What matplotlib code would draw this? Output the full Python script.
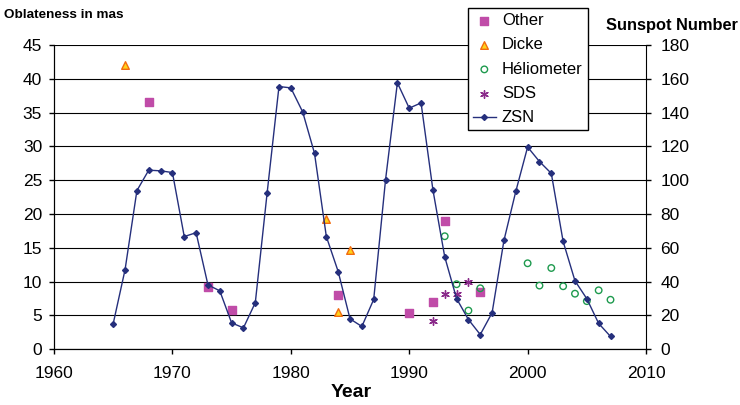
import numpy as np
import matplotlib.pyplot as plt

plt.rcParams['font.family'] = ['Liberation Sans', 'DejaVu Sans']

# yearly sunspot number (right axis)
zsn_years = np.arange(1965, 2008)
zsn = [15.1, 47.0, 93.8, 105.9, 105.5, 104.5, 66.6, 68.9, 38.0, 34.5,
       15.5, 12.6, 27.5, 92.5, 155.4, 154.6, 140.4, 115.9, 66.6, 45.9,
       17.9, 13.4, 29.4, 100.2, 157.6, 142.6, 145.7, 94.3, 54.6, 29.9,
       17.5, 8.6, 21.5, 64.3, 93.3, 119.6, 111.0, 104.0, 63.7, 40.4,
       29.8, 15.2, 7.5]

# oblateness measurements (left axis, mas)
other_years = [1968, 1973, 1975, 1984, 1990, 1992, 1993, 1996]
other_vals = [36.5, 9.2, 5.8, 8.0, 5.4, 6.9, 18.9, 8.5]

dicke_years = [1966, 1983, 1984, 1985]
dicke_vals = [42.0, 19.2, 5.5, 14.6]

helio_years = [1993, 1994, 1995, 1996, 2000, 2001, 2002, 2003, 2004, 2005, 2006, 2007]
helio_vals = [16.7, 9.6, 5.7, 9.0, 12.7, 9.4, 12.0, 9.3, 8.2, 7.1, 8.7, 7.3]

sds_years = [1992, 1993, 1994, 1995]
sds_vals = [4.2, 8.2, 8.2, 10.0]

fig = plt.figure(figsize=(7.4, 4.05), dpi=100)
ax = fig.add_axes([0.073, 0.138, 0.8, 0.751])
ax2 = ax.twinx()

ax.yaxis.grid(True, color='black', lw=0.8)
ax.set_axisbelow(True)

h1 = ax.scatter(other_years, other_vals, marker='s', s=30, color='#c04ca8', label='Other', zorder=3)
h2 = ax.scatter(dicke_years, dicke_vals, marker='^', s=30, facecolor='#ffd21a',
                edgecolor='#f26b10', lw=1, label='Dicke', zorder=3)
h3 = ax.scatter(helio_years, helio_vals, marker='o', s=22, facecolor='none',
                edgecolor='#1e9a4e', lw=1, label='Héliometer', zorder=3)
h4 = ax.scatter(sds_years, sds_vals, marker=(6, 2, 0), s=30, color='#8a2a8a',
                lw=1, label='SDS', zorder=3)
h5, = ax2.plot(zsn_years, zsn, color='#252f7c', lw=1, marker='D', ms=3, label='ZSN')

ax.set_xlim(1960, 2010)
ax.set_ylim(0, 45)
ax2.set_ylim(0, 180)
ax.set_xticks(range(1960, 2011, 10))
ax.set_yticks(range(0, 46, 5))
ax2.set_yticks(range(0, 181, 20))

for a in (ax, ax2):
    a.spines['top'].set_visible(False)
    a.tick_params(labelsize=12.5, length=3.5, width=1, color='black', pad=5)
ax.tick_params(axis='x', pad=9)
ax2.tick_params(axis='y', pad=7)
ax.spines['right'].set_visible(False)

fig.text(0.006, 0.962, 'Oblateness in mas', fontsize=9.7, fontweight='bold', va='center')
fig.text(0.997, 0.938, 'Sunspot Number', fontsize=11.8, fontweight='bold', va='center', ha='right')
fig.text(0.475, 0.032, 'Year', fontsize=14, fontweight='bold', va='center', ha='center')

fig.legend([h1, h2, h3, h4, h5], ['Other', 'Dicke', 'Héliometer', 'SDS', 'ZSN'],
           loc='upper left', bbox_to_anchor=(0.632, 0.98), fontsize=12,
           frameon=True, fancybox=False, framealpha=1, edgecolor='black',
           handlelength=1.4, handletextpad=0.35, labelspacing=0.56, borderpad=0.3,
           borderaxespad=0)

fig.savefig('out.png', dpi=100)
